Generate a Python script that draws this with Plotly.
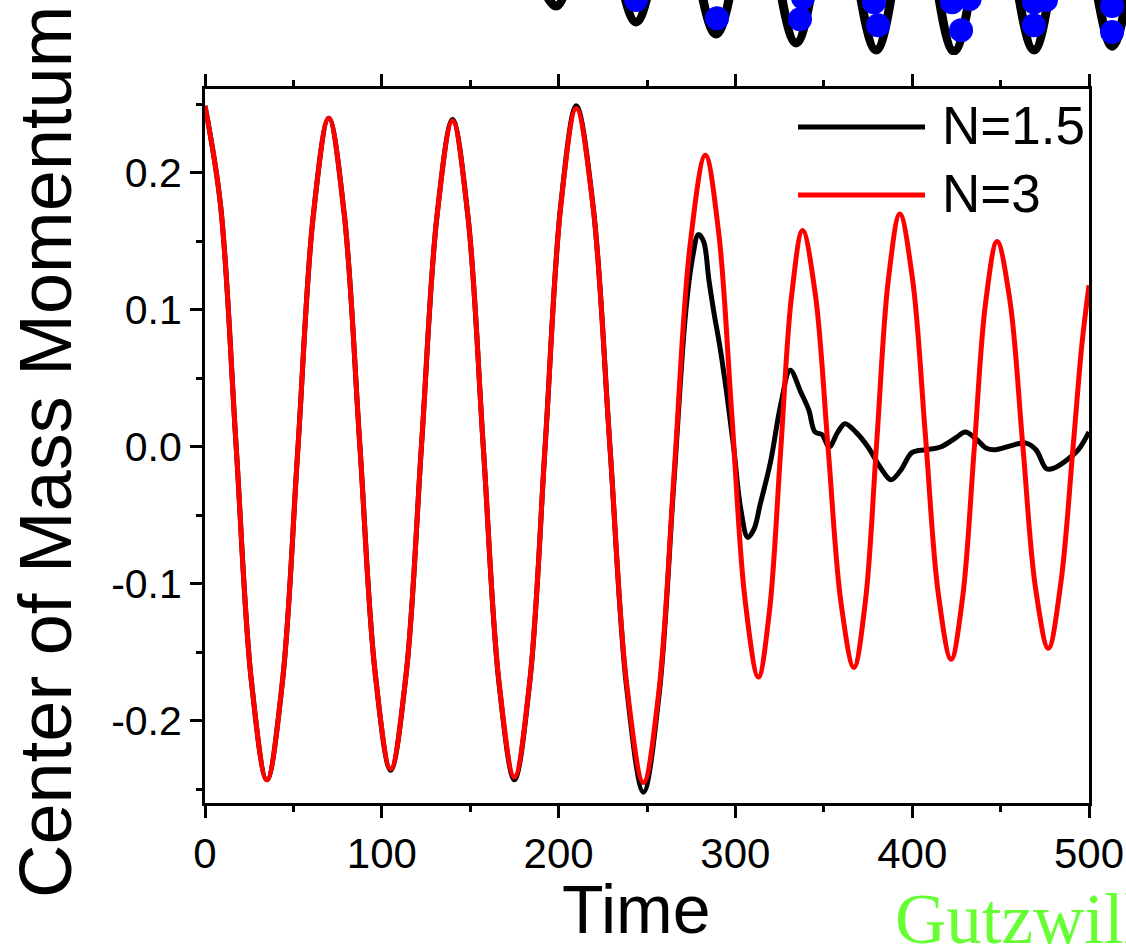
import plotly.graph_objects as go

# ---------------- data ----------------
t_red = [0, 8.75, 17.5, 26.25, 35, 43.75, 52.5, 61.25, 70, 78.75, 87.5, 96.25, 105,
         113.75, 122.5, 131.25, 140, 148.75, 157.5, 166.25, 175, 183.75, 192.5, 201.25, 210,
         219.5, 229, 238.5, 248, 256.75, 265.5, 274.25, 283, 290.5, 298, 305.5, 313,
         319.25, 325.5, 331.75, 338, 345.25, 352.5, 359.75, 367, 373.5, 380, 386.5, 393,
         400.25, 407.5, 414.75, 422, 428.5, 435, 441.5, 448, 455.25, 462.5, 469.75, 477,
         484, 491, 496, 500]
v_red = [0.249, 0.177, 0.003, -0.171, -0.243, -0.172, -0.002, 0.169, 0.240, 0.170, 0.003, -0.165, -0.235,
         -0.166, 0.002, 0.169, 0.238, 0.168, -0.002, -0.171, -0.241, -0.170, 0.003, 0.176, 0.247,
         0.175, 0.001, -0.173, -0.245, -0.178, -0.016, 0.146, 0.213, 0.157, 0.023, -0.112, -0.168,
         -0.120, -0.005, 0.110, 0.158, 0.111, -0.002, -0.114, -0.161, -0.113, 0.005, 0.122, 0.170,
         0.122, 0.008, -0.107, -0.155, -0.110, -0.003, 0.105, 0.150, 0.107, 0.002, -0.103, -0.147,
         -0.100, 0.000, 0.075, 0.118]

t_black = [0, 8.75, 17.5, 26.25, 35, 43.75, 52.5, 61.25, 70, 78.75, 87.5, 96.25, 105,
           113.75, 122.5, 131.25, 140, 148.75, 157.5, 166.25, 175, 183.75, 192.5, 201.25, 210,
           219.5, 229, 238.5, 248, 256.75, 265, 272, 276, 279, 282, 285, 288, 291, 295, 299,
           303, 307, 310.5, 314, 320, 325.5, 331, 337, 341.5, 345, 349, 353, 358, 362, 368,
           375, 382, 388, 393.5, 400, 408, 416, 425, 430, 436, 442, 447, 456, 464, 470, 476,
           481, 487, 494, 500]
v_black = [0.249, 0.177, 0.003, -0.171, -0.243, -0.172, -0.002, 0.169, 0.240, 0.170, 0.003, -0.165, -0.236,
           -0.166, 0.002, 0.169, 0.239, 0.168, -0.002, -0.172, -0.243, -0.171, 0.003, 0.177, 0.249,
           0.176, 0.001, -0.176, -0.252, -0.182, -0.030, 0.100, 0.140, 0.155, 0.150, 0.122, 0.097,
           0.075, 0.040, 0.000, -0.045, -0.066, -0.060, -0.042, -0.010, 0.030, 0.056, 0.040, 0.027,
           0.011, 0.009, 0.000, 0.011, 0.017, 0.011, 0.000, -0.015, -0.024, -0.017, -0.004, -0.002,
           0.000, 0.007, 0.011, 0.006, -0.001, -0.002, 0.001, 0.003, -0.002, -0.016, -0.015, -0.010,
           -0.002, 0.011]

series_names = ["N=1.5", "N=3"]
series_colors = ["#000000", "#ff0000"]

x_tickvals = [0, 100, 200, 300, 400, 500]
y_tickvals = [-0.2, -0.1, 0.0, 0.1, 0.2]
y_ticktext = ["-0.2", "-0.1", "0.0", "0.1", "0.2"]

# fragment of the panel above (cropped at the top of the picture)
frag_line_t = [176, 198.8, 221, 244.1, 266, 289.4, 312, 334.7, 357, 380.0, 402, 424.1, 447,
               469.4, 491, 513.6, 530]
frag_line_v = [0.0, -0.211, 0.0, -0.240, 0.0, -0.262, 0.0, -0.278, 0.0, -0.291, 0.0, -0.293,
               0.0, -0.291, 0.0, -0.284, 0.0]
frag_dot_t = [244.1, 289.9, 336.9, 338.6, 378.8, 381.1, 423.0, 433.0, 428.1, 469.4, 476.2,
              469.4, 513.6, 513.6]
frag_dot_v = [-0.200, -0.233, -0.235, -0.196, -0.204, -0.246, -0.204, -0.198, -0.255, -0.204,
              -0.200, -0.246, -0.211, -0.258]

SANS = "Liberation Sans, Arial, sans-serif"
SERIF = "Liberation Serif, Times New Roman, serif"

fig = go.Figure()

# upper fragment
fig.add_trace(go.Scatter(x=frag_line_t, y=frag_line_v, mode="lines",
                         line=dict(color="black", width=9, shape="spline", smoothing=1.0),
                         xaxis="x2", yaxis="y2", showlegend=False, hoverinfo="skip"))
fig.add_trace(go.Scatter(x=frag_dot_t, y=frag_dot_v, mode="markers",
                         marker=dict(color="#0000ff", size=24, line=dict(width=0)),
                         xaxis="x2", yaxis="y2", showlegend=False, hoverinfo="skip"))

# main curves
fig.add_trace(go.Scatter(x=t_black, y=v_black, mode="lines", name=series_names[0],
                         line=dict(color=series_colors[0], width=5, shape="spline", smoothing=1.0),
                         showlegend=False))
fig.add_trace(go.Scatter(x=t_red, y=v_red, mode="lines", name=series_names[1],
                         line=dict(color=series_colors[1], width=5, shape="spline", smoothing=1.0),
                         showlegend=False))

W, H = 1126, 948
L, R, T, B = 205, 0, 0, 145
PW, PH = W - L - R, H - T - B


def px(x):
    return (x - L) / PW


def py(y):
    return (H - B - y) / PH


fig.update_layout(
    width=W, height=H,
    margin=dict(l=L, r=R, t=T, b=B, pad=0, autoexpand=False),
    paper_bgcolor="white", plot_bgcolor="white",
    font=dict(family=SANS, color="black"),
    xaxis=dict(domain=[0, px(1089)], range=[0, 500], tickvals=x_tickvals,
               automargin=False,
               ticks="outside", ticklen=12, tickwidth=3, tickcolor="black",
               showline=True, linewidth=3, linecolor="black", mirror="ticks",
               showgrid=False, zeroline=False,
               tickfont=dict(size=42, family=SANS),
               minor=dict(dtick=50, tick0=0, ticks="outside", ticklen=6, tickwidth=3,
                          tickcolor="black", showgrid=False)),
    yaxis=dict(domain=[0, py(89)], range=[-0.2599, 0.2613], tickvals=y_tickvals,
               ticktext=y_ticktext, automargin=False,
               ticks="outside", ticklen=12, tickwidth=3, tickcolor="black",
               showline=True, linewidth=3, linecolor="black", mirror=True,
               showgrid=False, zeroline=False, ticklabelstandoff=0,
               tickfont=dict(size=41, family=SANS),
               minor=dict(dtick=0.05, tick0=0, ticks="outside", ticklen=6, tickwidth=3,
                          tickcolor="black", showgrid=False)),
    xaxis2=dict(domain=[0, 1], range=[0, 521.5], anchor="y2", visible=False, automargin=False),
    yaxis2=dict(domain=[py(55), 1], range=[-0.3, -0.2], anchor="x2", visible=False, automargin=False),
    showlegend=False,
)

# manual legend (long line samples as in the original)
for i, (name, col) in enumerate(zip(series_names, series_colors)):
    yy = 127 + 68 * i
    fig.add_shape(type="line", xref="paper", yref="paper",
                  x0=px(798), x1=px(925), y0=py(yy), y1=py(yy),
                  line=dict(color=col, width=5))
    fig.add_annotation(xref="paper", yref="paper", x=px(940), y=py(yy - 1),
                       xanchor="left", yanchor="middle", text=name, showarrow=False,
                       font=dict(size=53, family=SANS, color="black"))

# axis titles
fig.add_annotation(xref="paper", yref="paper", x=px(45), y=py(452), textangle=-90,
                   xanchor="center", yanchor="middle", text="Center of Mass Momentum",
                   showarrow=False, font=dict(size=74, family=SANS, color="black"))
fig.add_annotation(xref="paper", yref="paper", x=px(636), y=py(909),
                   xanchor="center", yanchor="middle", text="Time",
                   showarrow=False, font=dict(size=68, family=SANS, color="black"))
fig.add_annotation(xref="paper", yref="paper", x=px(893), y=py(919),
                   xanchor="left", yanchor="middle", text="Gutzwiller",
                   showarrow=False, font=dict(size=71, family=SERIF, color="#66ff33"))

fig.write_html("out.html", config={"displayModeBar": False},
               post_script="document.body.style.margin='0px';")
